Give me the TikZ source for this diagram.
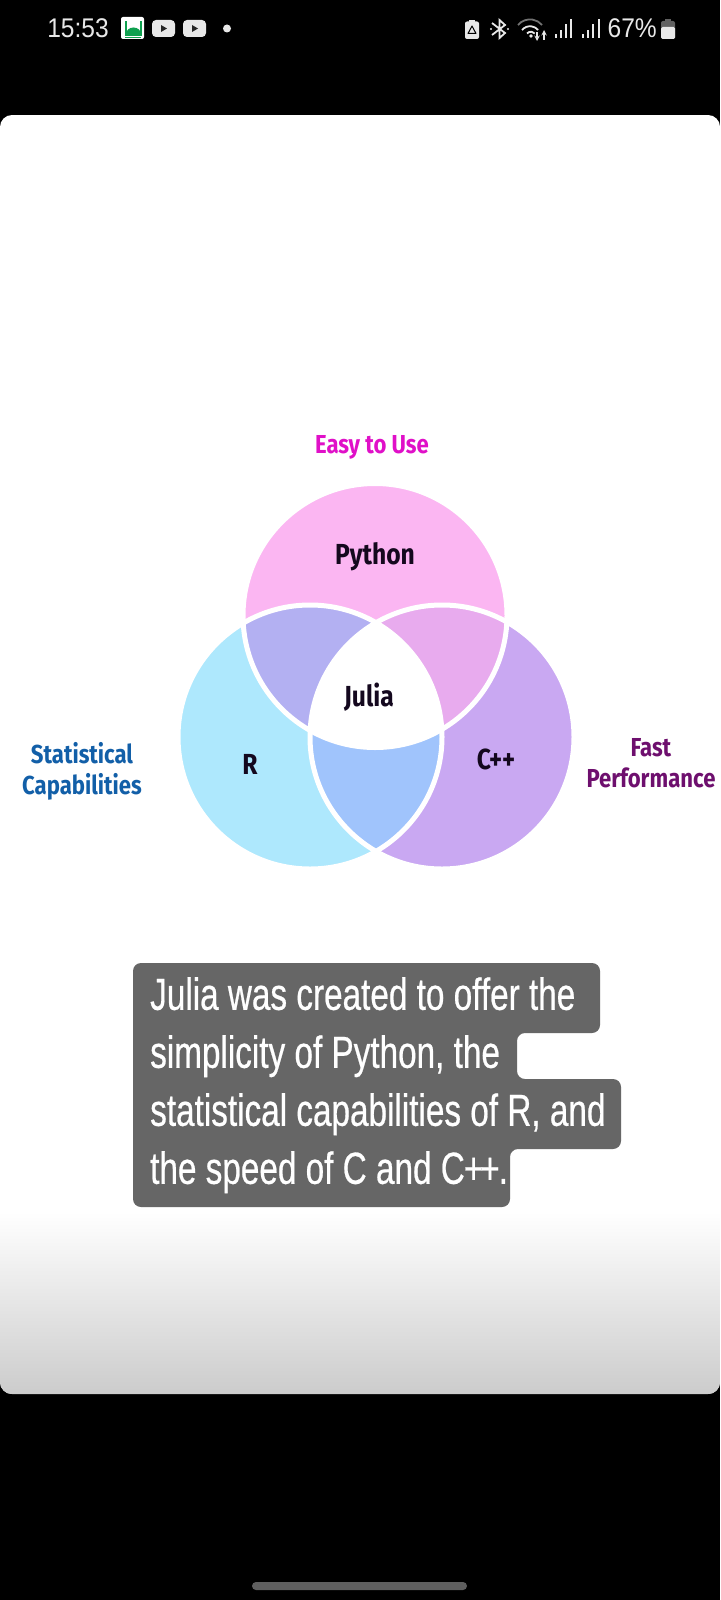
\documentclass[tikz,border=0pt]{standalone}
\usepackage{fontspec}
\setmainfont{Liberation Sans}
\newfontfamily\barfont[FakeStretch=0.91]{Liberation Sans}
\newfontfamily\labelfont[FakeStretch=0.85]{Fira Sans}
\newfontfamily\capfont[FakeStretch=0.74,FakeBold=0.5]{Liberation Sans}
\usepackage{xcolor}
\definecolor{pyfill}{HTML}{FBB6F2}
\definecolor{rfill}{HTML}{AEE8FD}
\definecolor{cppfill}{HTML}{C9A8F2}
\definecolor{pyrfill}{HTML}{B3B0F2}
\definecolor{pycfill}{HTML}{E8ABEE}
\definecolor{rcfill}{HTML}{A0C4FC}
\definecolor{capgray}{HTML}{666666}
\definecolor{pillgray}{HTML}{5F5F5F}
\definecolor{easycol}{HTML}{E010C8}
\definecolor{statcol}{HTML}{125FA8}
\definecolor{fastcol}{HTML}{6E0F6E}
\definecolor{inkcol}{HTML}{14081E}
\definecolor{mosquecol}{HTML}{0FA04F}
\definecolor{iconwhite}{HTML}{E8E8E8}
\tikzset{
  venn/.style={font=\labelfont\bfseries\fontsize{29}{30}\selectfont, text=inkcol, inner sep=0pt},
  side/.style={font=\labelfont\bfseries\fontsize{26}{31}\selectfont, align=center, inner sep=0pt},
  bartext/.style={anchor=base,inner sep=0pt,text=iconwhite,font=\barfont\fontsize{27}{30}\selectfont},
}
\begin{document}
\begin{tikzpicture}[x=1pt,y=-1pt]
  \fill[black,use as bounding box] (0,0) rectangle (720,1600);
  % card
  \begin{scope}
    \clip[rounded corners=12pt] (0,115) rectangle (720,1394);
    \fill[white] (0,115) rectangle (720,1394);
    \shade[top color=white,bottom color=black!20] (0,1212) rectangle (720,1394);
  \end{scope}
  % venn
  \coordinate (P) at (375,615.5);
  \coordinate (R) at (310,737);
  \coordinate (C) at (442,737);
  \fill[pyfill] (P) circle (132);
  \fill[rfill] (R) circle (132);
  \fill[cppfill] (C) circle (132);
  \begin{scope}
    \clip (P) circle (132);
    \fill[pyrfill] (R) circle (132);
    \fill[pycfill] (C) circle (132);
  \end{scope}
  \begin{scope}
    \clip (R) circle (132);
    \fill[rcfill] (C) circle (132);
    \clip (C) circle (132);
    \fill[white] (P) circle (132);
  \end{scope}
  \foreach \p in {P,R,C} \draw[white,line width=5pt] (\p) circle (132);
  \node[venn] (python) at (375,557) {Python};
  \node[venn] (julia) at (369,697) {Julia};
  \node[venn] (rlang) at (250,764) {R};
  \node[venn] (cpp) at (496,759) {C++};
  \node[side,text=easycol] (easy) at (372,447) {Easy to Use};
  \node[side,text=statcol] (stat) at (82,771) {Statistical\\Capabilities};
  \node[side,text=fastcol] (fast) at (651,763) {Fast\\Performance};
  % caption
  \fill[capgray,rounded corners=8pt] (133,963) -- (600,963) -- (600,1033) -- (517,1033)
    -- (517,1079) -- (621,1079) -- (621,1149) -- (510,1149) -- (510,1207) -- (133,1207) -- cycle;
  \node[anchor=north west,align=left,inner sep=0pt,text=white,
    font=\capfont\fontsize{45}{58}\selectfont] (caption) at (150,977)
    {Julia was created to offer the\\simplicity of Python, the\\statistical capabilities of R, and\\the speed of C and C\kern-1pt+\kern-3pt+\kern-1pt.};
  % status bar
  \node[bartext] (clock) at (78,38) {15:53};
  \fill[white,rounded corners=2pt] (121,17) rectangle (144,39);
  \fill[mosquecol] (124.5,21) rectangle (127,36);
  \fill[mosquecol] (139.5,21) rectangle (142,36);
  \fill[mosquecol] (126,34) arc[start angle=180,end angle=360,x radius=7.5,y radius=6.5] -- cycle;
  \fill[mosquecol] (124.5,34) rectangle (142,36);
  \fill[mosquecol] (125,37) rectangle (141,37.7);
  \foreach \x in {152,183} {
    \fill[iconwhite,rounded corners=4pt] (\x,20) rectangle ++(23,17);
    \fill[black!85] (\x+9,25) -- (\x+9,32) -- (\x+15,28.5) -- cycle;
  }
  \fill[iconwhite] (227,28.5) circle (4);
  \node[bartext,anchor=base east] (percent) at (657,38) {67\%};
  % battery icons
  \fill[iconwhite,rounded corners=2pt] (465,21.5) rectangle (479,39);
  \fill[iconwhite] (469,20) rectangle (475,23);
  \draw[black,line width=1pt,line join=round] (472,26) -- (476,33.5) -- (468,33.5) -- cycle;
  \draw[iconwhite,line width=1.8pt] (492,23) -- (505,33) -- (499.5,38) -- (499.5,20) -- (505,25) -- (492,35);
  \fill[iconwhite] (491,29) circle (1.2);
  \fill[iconwhite] (508,29) circle (1.2);
  \draw[black!55,line width=1.8pt] (518,25) arc[start angle=-140,end angle=-40,radius=15.7];
  \draw[iconwhite,line width=1.8pt] (522,30) arc[start angle=-140,end angle=-40,radius=10.5];
  \draw[iconwhite,line width=1.8pt] (527,33.5) arc[start angle=-140,end angle=-40,radius=5];
  \fill[iconwhite] (531,36) circle (1.8);
  \draw[iconwhite,line width=1.4pt,-stealth] (537,32) -- (537,41);
  \draw[iconwhite,line width=1.4pt,-stealth] (544,40) -- (544,30);
  \foreach \x in {554.5,582} {
    \fill[iconwhite] (\x,34) rectangle ++(2,4.3);
    \fill[iconwhite] (\x+5.2,30) rectangle ++(2,8.3);
    \fill[iconwhite] (\x+10.4,24) rectangle ++(2,14.3);
    \fill[iconwhite] (\x+15.6,19.5) rectangle ++(2,18.8);
  }
  \fill[black!62,rounded corners=2pt] (661,21) rectangle (675,39);
  \fill[black!62] (665,19) rectangle (671,22);
  \fill[iconwhite,rounded corners=1.5pt] (661,27) rectangle (675,39);
  % home pill
  \fill[pillgray,rounded corners=4pt] (252,1582) rectangle (467,1590);
\end{tikzpicture}
\end{document}
